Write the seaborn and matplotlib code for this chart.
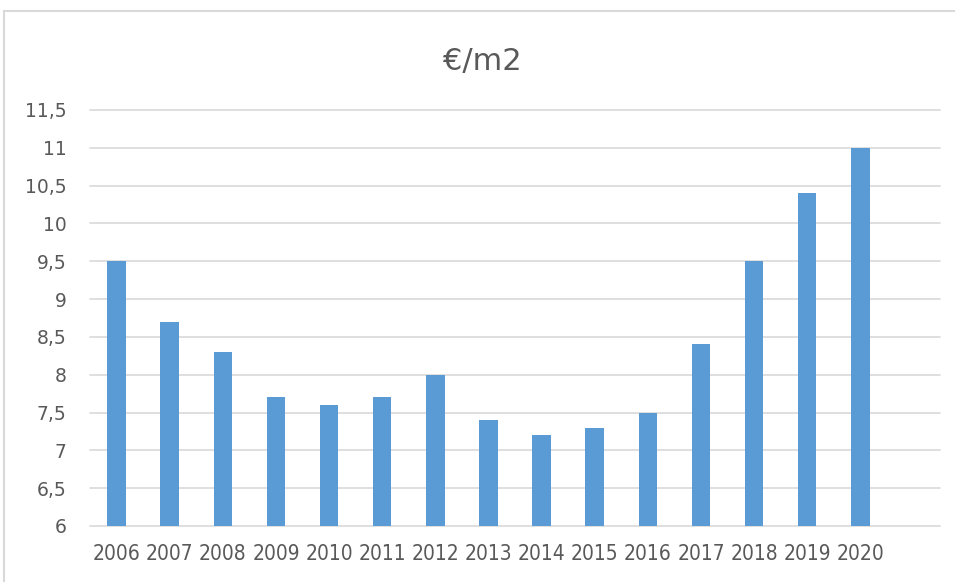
import pandas as pd
import seaborn as sns
import matplotlib.pyplot as plt
from matplotlib.patches import Rectangle
from matplotlib.ticker import FuncFormatter, MultipleLocator

years = [str(y) for y in range(2006, 2021)]
prices = [9.5, 8.7, 8.3, 7.7, 7.6, 7.7, 8.0, 7.4, 7.2, 7.3, 7.5, 8.4, 9.5, 10.4, 11.0]

df = pd.DataFrame({"year": years, "price": prices})

sns.set_theme(style="white")
plt.rcParams['font.family'] = ['DejaVu Sans']

fig = plt.figure(figsize=(9.55, 5.82), dpi=100)
ax = fig.add_axes([90 / 955, 1 - 526 / 582, 850 / 955, 416 / 582])

sns.barplot(data=df, x="year", y="price", color="#5B9BD5", width=0.35,
            saturation=1, linewidth=0, ax=ax, zorder=3)

ax.set_xlim(-0.5, len(years) + 0.5)
ax.set_ylim(6, 11.5)
ax.yaxis.set_major_locator(MultipleLocator(0.5))
ax.yaxis.set_major_formatter(FuncFormatter(lambda v, p: f"{v:g}".replace(".", ",")))
ax.grid(axis="y", color="#D9D9D9", linewidth=1.2, zorder=0)
for line in ax.get_ygridlines():
    line.set_clip_on(False)
for s in ax.spines.values():
    s.set_visible(False)
ax.set_xlabel("")
ax.set_ylabel("")
ax.tick_params(axis="both", length=0, colors="#595959")
ax.tick_params(axis="y", pad=17)
ax.tick_params(axis="x", pad=13)
for lab in ax.get_yticklabels():
    lab.set_fontsize(13.5)
for lab in ax.get_xticklabels():
    lab.set_fontsize(15)
    lab.set_fontstretch("condensed")

fig.text(0.505, 0.895, "€/m2", ha="center", va="center", fontsize=22,
         color="#595959")

fig.patches.append(Rectangle((3.5 / 955, -0.1), 1.2, 1 - 11 / 582 + 0.1,
                             transform=fig.transFigure, fill=False,
                             edgecolor="#D9D9D9", linewidth=1.5))

fig.savefig("out.png", dpi=100)
